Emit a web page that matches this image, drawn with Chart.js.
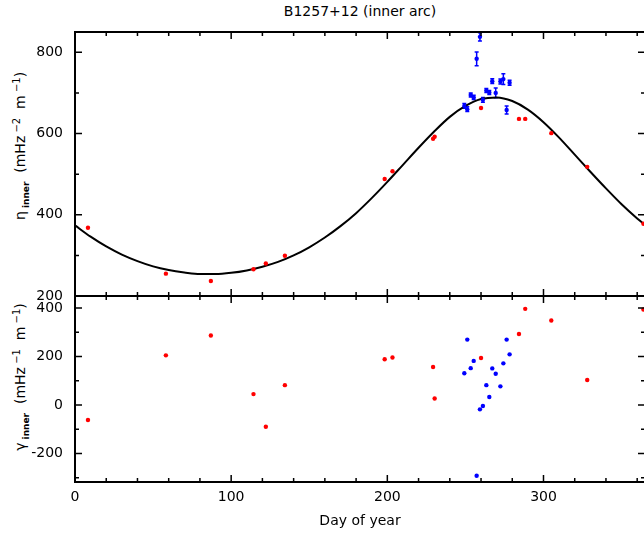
<!DOCTYPE html>
<html>
<head>
<meta charset="utf-8">
<script src="https://cdn.jsdelivr.net/npm/chart.js@4.4.1/dist/chart.umd.min.js"></script>
<style>
  html, body { margin: 0; padding: 0; background: #fff; overflow: hidden; }
  #wrap { position: relative; width: 644px; height: 533px; overflow: hidden; font-family: "DejaVu Sans", sans-serif; color: #000; }
  canvas { position: absolute; left: 0; }
  #top { top: 0; }
  #bottom { top: 280px; }
  .title { position: absolute; left: 0; width: 720px; top: 3px; text-align: center; font-size: 14px; }
  .ylab { position: absolute; white-space: nowrap; font-size: 14px; transform: translate(-50%, -50%) rotate(-90deg); }
  .ylab sub { font-size: 9px; font-weight: bold; }
  .ylab sup { font-size: 10px; }
</style>
</head>
<body>
<div id="wrap">
  <div class="title">B1257+12 (inner arc)</div>
  <div class="ylab" style="left:21px; top:146px">&eta;<sub>&nbsp;inner</sub>&nbsp; (mHz<sup>&nbsp;&minus;2</sup>&nbsp; m<sup>&nbsp;&minus;1</sup>)</div>
  <div class="ylab" style="left:21px; top:377px">&gamma;<sub>&nbsp;inner</sub>&nbsp; (mHz<sup>&nbsp;&minus;1</sup>&nbsp; m<sup>&nbsp;&minus;1</sup>)</div>
  <canvas id="top" width="660" height="305"></canvas>
  <canvas id="bottom" width="660" height="253"></canvas>
</div>
<script>
// tick labels
const dayTicks = [0, 100, 200, 300];
const etaTicks = [200, 400, 600, 800];
const gammaTicks = [-200, 0, 200, 400];

// red points (day of year, eta, gamma)
const redDay = [8.3, 58.2, 87, 114.3, 122.2, 134.4, 198.3, 203.3, 229.3, 230.3, 260, 284.3, 288.3, 305, 328, 364];
const redEta = [368, 255, 237, 266, 280, 299, 488, 507, 587, 592, 663, 636, 636, 601, 518, 378];
const redGamma = [-62, 205, 287, 45, -90, 82, 189, 196, 157, 27, 194, 293, 397, 349, 103, 394];

// blue points
const blueDay = [249.3, 251.2, 253.4, 255.3, 257.2, 259.3, 261.2, 263.4, 265.3, 267.2, 269.4, 272.4, 274.3, 276.4, 278.3];
const blueEta = [668, 660, 695, 689, 784, 838, 683, 706, 701, 729, 700, 728, 734, 658, 725];
const blueEtaErr = [6, 6, 5, 5, 17, 10, 6, 5, 5, 6, 12, 6, 13, 10, 6];
const blueGamma = [131, 270, 152, 182, -292, -18, -4, 82, 33, 151, 129, 77, 172, 270, 209];

// model curve
const curveDay = [0, 10, 20, 30, 40, 50, 60, 70, 80, 90, 100, 110, 120, 130, 140, 150, 160, 170, 180, 190,
                  200, 210, 220, 230, 240, 250, 260, 270, 280, 290, 300, 310, 320, 330, 340, 350, 360, 365];
const curveEta = [374, 346, 322, 302, 286, 273, 264, 258, 254, 254, 257, 263, 272, 284, 300, 320, 344, 372, 404, 441,
                  481, 523, 565, 605, 641, 668, 685, 689, 680, 659, 628, 590, 548, 506, 465, 426, 391, 375];

const pts = (xs, ys) => xs.map((x, i) => ({ x: x, y: ys[i] }));

Chart.defaults.font.family = '"DejaVu Sans", sans-serif';
Chart.defaults.font.size = 14;
Chart.defaults.color = '#000';

// box with inward ticks on all four sides
const frameTicks = {
  id: 'frameTicks',
  afterDatasetsDraw(chart, args, opts) {
    const { ctx, chartArea: a } = chart;
    const xs = chart.scales.x, ys = chart.scales.y;
    ctx.save();
    ctx.strokeStyle = '#000';
    ctx.lineWidth = 1.5;
    ctx.beginPath();
    for (let v = Math.ceil(xs.min / opts.xMinor) * opts.xMinor; v <= xs.max; v += opts.xMinor) {
      const px = xs.getPixelForValue(v);
      const len = v % opts.xMajor === 0 ? 7 : 4;
      ctx.moveTo(px, a.top); ctx.lineTo(px, a.top + len);
      ctx.moveTo(px, a.bottom); ctx.lineTo(px, a.bottom - len);
    }
    for (let v = Math.ceil(ys.min / opts.yMinor) * opts.yMinor; v <= ys.max; v += opts.yMinor) {
      const py = ys.getPixelForValue(v);
      const len = v % opts.yMajor === 0 ? 7 : 4;
      ctx.moveTo(a.left, py); ctx.lineTo(a.left + len, py);
      ctx.moveTo(a.right, py); ctx.lineTo(a.right - len, py);
    }
    ctx.stroke();
    ctx.lineWidth = 2;
    ctx.strokeRect(a.left, a.top, a.right - a.left, a.bottom - a.top);
    ctx.restore();
  }
};

const errorBars = {
  id: 'errorBars',
  beforeDatasetsDraw(chart) {
    const { ctx } = chart;
    const xs = chart.scales.x, ys = chart.scales.y;
    chart.data.datasets.forEach(ds => {
      if (!ds.yErr) return;
      ctx.save();
      ctx.strokeStyle = ds.backgroundColor;
      ctx.lineWidth = 1.5;
      ctx.beginPath();
      ds.data.forEach((p, i) => {
        const px = xs.getPixelForValue(p.x);
        const y1 = ys.getPixelForValue(p.y - ds.yErr[i]);
        const y2 = ys.getPixelForValue(p.y + ds.yErr[i]);
        ctx.moveTo(px, y1); ctx.lineTo(px, y2);
        ctx.moveTo(px - 2, y1); ctx.lineTo(px + 2, y1);
        ctx.moveTo(px - 2, y2); ctx.lineTo(px + 2, y2);
      });
      ctx.stroke();
      ctx.restore();
    });
  }
};

const dot = color => ({ backgroundColor: color, borderWidth: 0, pointRadius: 2.2, pointHoverRadius: 2.2 });

// y axes: labels pushed off the frame by a hidden tick length, no extra tick padding
const yAxis = (min, max, ticksList) => ({
  type: 'linear', min: min, max: max,
  afterBuildTicks: s => { s.ticks = ticksList.map(v => ({ value: v })); },
  afterFit: s => { s.width = 75; },
  grid: { display: false, drawTicks: true, tickLength: 12 },
  border: { display: false },
  ticks: { padding: 0 }
});

const topChart = new Chart(document.getElementById('top'), {
  type: 'scatter',
  data: {
    datasets: [
      Object.assign({ label: 'blue', data: pts(blueDay, blueEta), yErr: blueEtaErr }, dot('#0000ff')),
      Object.assign({ label: 'red', data: pts(redDay, redEta) }, dot('#ff0000')),
      {
        label: 'model', data: pts(curveDay, curveEta), showLine: true,
        borderColor: '#000', borderWidth: 2, pointRadius: 0, cubicInterpolationMode: 'monotone'
      }
    ]
  },
  options: {
    responsive: false,
    animation: false,
    layout: { padding: { top: 32, bottom: 9, left: 0, right: 15 } },
    plugins: {
      legend: { display: false },
      tooltip: { enabled: false },
      frameTicks: { xMinor: 20, xMajor: 100, yMinor: 100, yMajor: 200 }
    },
    scales: {
      x: { type: 'linear', min: 0, max: 365, display: false },
      y: yAxis(200, 850, etaTicks)
    }
  },
  plugins: [errorBars, frameTicks]
});

const bottomChart = new Chart(document.getElementById('bottom'), {
  type: 'scatter',
  data: {
    datasets: [
      Object.assign({ label: 'blue', data: pts(blueDay, blueGamma) }, dot('#0000ff')),
      Object.assign({ label: 'red', data: pts(redDay, redGamma) }, dot('#ff0000'))
    ]
  },
  options: {
    responsive: false,
    animation: false,
    layout: { padding: { top: 16, bottom: 0, left: 0, right: 15 } },
    plugins: {
      legend: { display: false },
      tooltip: { enabled: false },
      frameTicks: { xMinor: 20, xMajor: 100, yMinor: 100, yMajor: 200 }
    },
    scales: {
      x: {
        type: 'linear', min: 0, max: 365,
        afterBuildTicks: s => { s.ticks = dayTicks.map(v => ({ value: v })); },
        afterFit: s => { s.height = 51; },
        grid: { display: false, drawTicks: false },
        border: { display: false },
        ticks: { padding: 7, maxRotation: 0 },
        title: { display: true, text: 'Day of year', padding: { top: 0, bottom: 3 } }
      },
      y: yAxis(-318, 450, gammaTicks)
    }
  },
  plugins: [frameTicks]
});
</script>
</body>
</html>
